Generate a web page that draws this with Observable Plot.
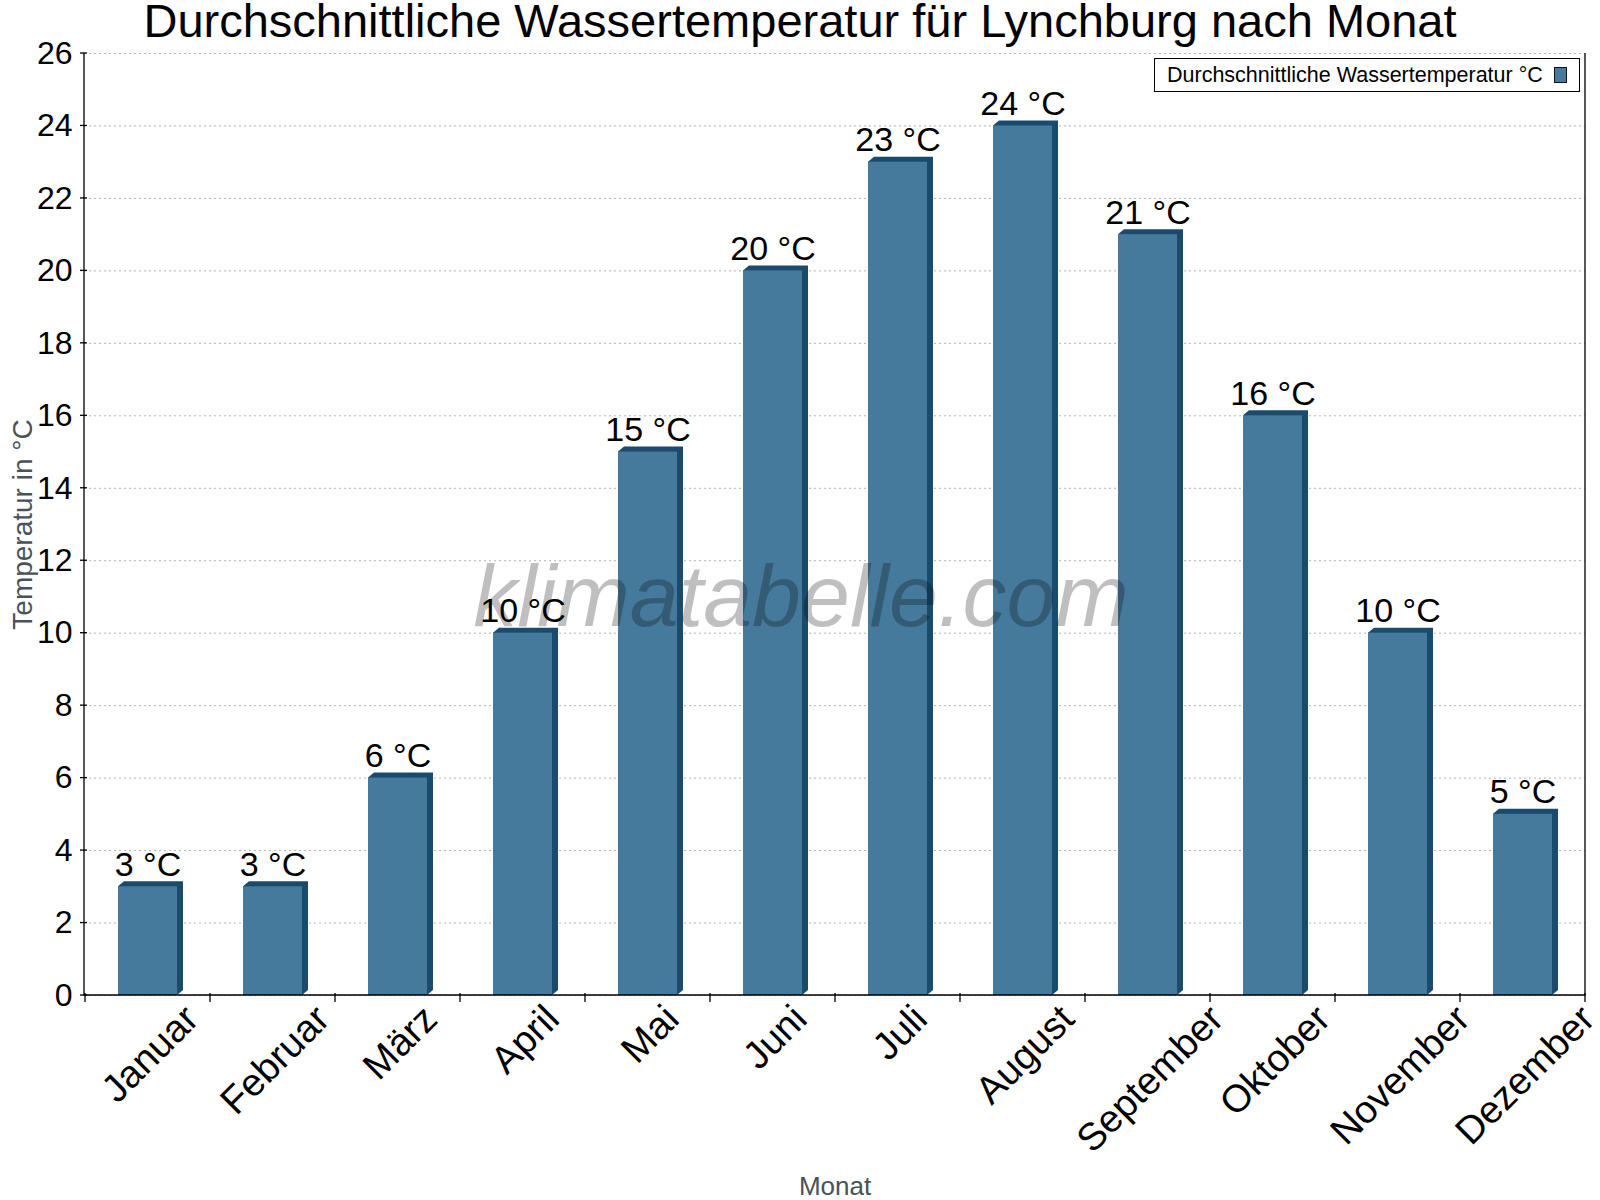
<!DOCTYPE html>
<html><head><meta charset="utf-8">
<script src="https://cdn.jsdelivr.net/npm/d3@7"></script>
<script src="https://cdn.jsdelivr.net/npm/@observablehq/plot@0.6"></script>
<style>
body{margin:0;background:#fff;font-family:"Liberation Sans",Arial,sans-serif;}
#wrap{position:relative;width:1600px;height:1200px;overflow:hidden;}
#title{position:absolute;left:0;top:0;width:1600px;height:44px;line-height:41px;font-size:47px;text-align:center;color:#000;white-space:nowrap;z-index:2;}
#legend{position:absolute;left:1154px;top:58px;width:424px;height:32px;border:1px solid #000;background:#fff;font-size:21.5px;line-height:32px;z-index:2;}
#legend .lbl{position:absolute;left:12px;top:0;color:#000;}
#legend .sw{position:absolute;left:399px;top:8px;width:11px;height:14px;border:1px solid #111;background:#467a9c;}
svg{display:block;}
</style></head>
<body>
<div id="wrap">
<div id="title">Durchschnittliche Wassertemperatur für Lynchburg nach Monat</div>
<div id="chart"></div>
<div id="legend"><span class="lbl">Durchschnittliche Wassertemperatur °C</span><span class="sw"></span></div>
</div>
<script>
const months = ["Januar","Februar","März","April","Mai","Juni","Juli","August","September","Oktober","November","Dezember"];
const temps = [3,3,6,10,15,20,23,24,21,16,10,5];
const yTicks = [0,2,4,6,8,10,12,14,16,18,20,22,24,26];
const unit = "°C";

const frontColor = "#467a9c";
const darkColor = "#1a4b6d";
const data = months.map((m,i) => ({month:m, temp:temps[i]}));

const BAR_INSET = 33, DEPTH_X = 6, DEPTH_Y = 5;

function bars3d(index, scales, values, dim) {
  const x = scales.x, y = scales.y;
  const bw = x.bandwidth ? x.bandwidth() : (dim.width - dim.marginLeft - dim.marginRight)/months.length;
  const g = d3.create("svg:g");
  const y0 = y(0);
  data.forEach(d => {
    const x0 = x(d.month) + BAR_INSET, x1 = x(d.month) + bw - BAR_INSET;
    const yt = y(d.temp);
    g.append("path")
      .attr("d", `M${x0},${yt}L${x0+DEPTH_X},${yt-DEPTH_Y}L${x1+DEPTH_X},${yt-DEPTH_Y}L${x1+DEPTH_X},${y0-DEPTH_Y}L${x1},${y0}Z`)
      .attr("fill", darkColor);
  });
  return g.node();
}

function axesLines(index, scales, values, dim) {
  const x = scales.x, y = scales.y;
  const left = dim.marginLeft, right = dim.width - dim.marginRight;
  const top = dim.marginTop, bottom = dim.height - dim.marginBottom;
  const bw = x.bandwidth ? x.bandwidth() : (right-left)/months.length;
  const g = d3.create("svg:g").attr("stroke","#000").attr("stroke-width",1.3).attr("fill","none");
  g.append("path").attr("d", `M${left},${top}V${bottom}H${right}V${top}`);
  yTicks.forEach(t => g.append("path").attr("d", `M${left-4},${y(t)}H${left+3}`));
  const bounds = months.map(m => x(m)).concat([x(months[months.length-1]) + bw]);
  bounds.forEach(b => g.append("path").attr("d", `M${b},${bottom-2}V${bottom+7}`));
  return g.node();
}

const FX = 38.5;
const ctx = document.createElement("canvas").getContext("2d");
ctx.font = `${FX}px "Liberation Sans", Arial, sans-serif`;
const monthLabelMarks = months.map(m => {
  const L = ctx.measureText(m).width;
  return Plot.text([m], {x: d => d, text: d => d, frameAnchor: "bottom", rotate: -45,
    textAnchor: "middle", lineAnchor: "bottom", fontSize: FX, fill: "#000",
    dx: 11, dy: 13 + 0.707 * (L/2 + 0.47*FX)});
});

const chart = Plot.plot({
  width: 1600, height: 1200,
  marginTop: 53, marginLeft: 84, marginRight: 15, marginBottom: 205,
  style: {fontFamily: '"Liberation Sans", Arial, sans-serif', background: "#fff", color: "#000", overflow: "visible"},
  x: {domain: months, padding: 0, axis: null},
  y: {domain: [0, 26]},
  marks: [
    Plot.gridY(yTicks, {stroke: "#b4b4b4", strokeOpacity: 1, strokeDasharray: "2,3"}),
    bars3d,
    Plot.barY(data, {x: "month", y: "temp", fill: frontColor, insetLeft: BAR_INSET, insetRight: BAR_INSET}),
    axesLines,
    Plot.axisY({ticks: yTicks, tickSize: 0, tickPadding: 12, fontSize: 32, label: null, fill: "#000"}),
    Plot.text(["klimatabelle.com"], {text: d => d, frameAnchor: "middle", dx: -34, dy: 101, lineAnchor: "bottom",
      fontSize: 88, fontStyle: "italic", fill: "#000", fillOpacity: 0.25}),
    Plot.text(data, {x: "month", y: "temp", text: d => `${d.temp} ${unit}`, lineAnchor: "bottom", dy: -11, fontSize: 34, fill: "#000"}),
    ...monthLabelMarks,
    Plot.text(["Temperatur in °C"], {text: d => d, frameAnchor: "left", rotate: -90, textAnchor: "middle", dx: -53, lineAnchor: "bottom", fontSize: 28, fill: "#4a5159"}),
    Plot.text(["Monat"], {text: d => d, frameAnchor: "bottom", dy: 199, lineAnchor: "bottom", fontSize: 26, fill: "#4a5159"})
  ]
});
document.getElementById("chart").appendChild(chart);
</script>
</body></html>
